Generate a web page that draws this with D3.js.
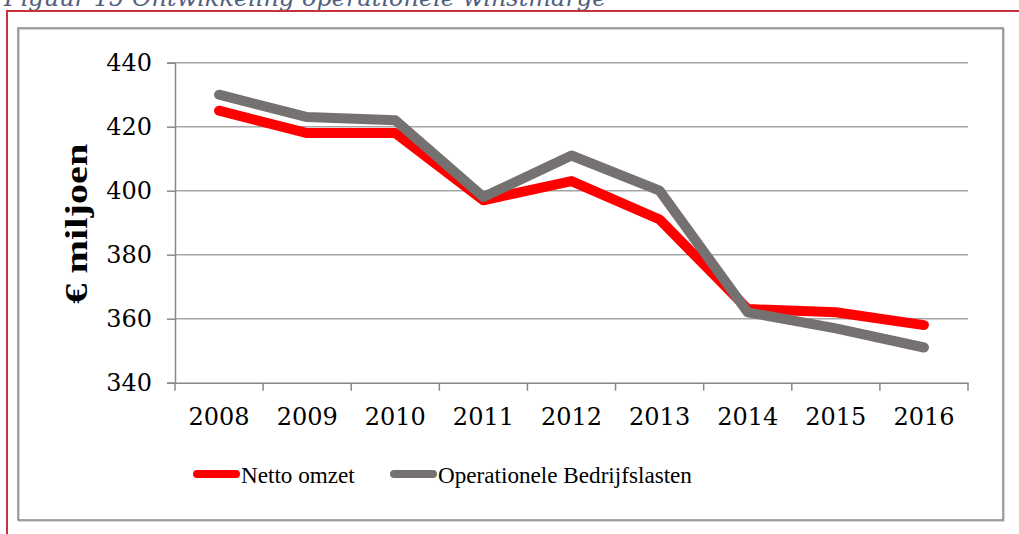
<!DOCTYPE html>
<html>
<head>
<meta charset="UTF-8" />
<script src="https://d3js.org/d3.v7.min.js"></script>
<style>
  body { margin: 0; background: #fff; }
  svg { display: block; }
</style>
</head>
<body>
<div id="chart"></div>
<script>
  // data
  const years = ["2008", "2009", "2010", "2011", "2012", "2013", "2014", "2015", "2016"];
  const nettoOmzet = [425, 418, 418, 397, 403, 391, 363, 362, 358];
  const bedrijfslasten = [430, 423, 422, 398, 411, 400, 362, 357, 351];
  const yTicks = [340, 360, 380, 400, 420, 440];
  const seriesNames = ["Netto omzet", "Operationele Bedrijfslasten"];
  const seriesColors = ["#ff0000", "#767171"];

  const W = 1019, H = 534;
  const svg = d3.select("#chart").append("svg").attr("width", W).attr("height", H);

  // caption (cut off at top)
  svg.append("text")
    .attr("x", 4).attr("y", 6)
    .attr("font-family", "DejaVu Serif")
    .attr("font-style", "italic")
    .attr("font-size", 24)
    .attr("fill", "#4f6080")
    .text("Figuur 15 Ontwikkeling operationele winstmarge");

  // red frame of the page
  svg.append("line").attr("x1", 7).attr("x2", W).attr("y1", 11).attr("y2", 11)
    .attr("stroke", "#c8323c").attr("stroke-width", 2);
  svg.append("line").attr("x1", 7).attr("x2", 7).attr("y1", 10).attr("y2", H)
    .attr("stroke", "#c8323c").attr("stroke-width", 2);

  // chart box
  svg.append("rect").attr("x", 19).attr("y", 29).attr("width", 985).attr("height", 492)
    .attr("fill", "none").attr("stroke", "#b0b0b0").attr("stroke-width", 1);
  svg.append("rect").attr("x", 18).attr("y", 28).attr("width", 985).attr("height", 492)
    .attr("fill", "none").attr("stroke", "#888").attr("stroke-width", 1.5);

  const m = { left: 175, right: 968, top: 62.7, bottom: 382.7 };

  const x = d3.scaleBand().domain(years).range([m.left, m.right]);
  const y = d3.scaleLinear().domain([340, 440]).range([m.bottom, m.top]);

  // gridlines
  svg.append("g").selectAll("line").data(yTicks.filter(d => d > 340)).join("line")
    .attr("x1", m.left).attr("x2", m.right)
    .attr("y1", d => y(d)).attr("y2", d => y(d))
    .attr("stroke", "#a6a6a6").attr("stroke-width", 1.5);

  // y axis
  const yAxis = svg.append("g").attr("transform", `translate(${m.left},0)`)
    .call(d3.axisLeft(y).tickValues(yTicks).tickSize(8).tickPadding(15));
  yAxis.select(".domain").attr("stroke", "#888").attr("stroke-width", 1.5);
  yAxis.selectAll(".tick line").attr("stroke", "#888").attr("stroke-width", 1.5);
  yAxis.selectAll(".tick text")
    .attr("font-family", "DejaVu Serif").attr("font-size", 24).attr("fill", "#000");

  // x axis
  const xAxis = svg.append("g").attr("transform", `translate(0,${m.bottom})`)
    .call(d3.axisBottom(x).tickSize(0).tickPadding(25));
  xAxis.select(".domain").attr("stroke", "#888").attr("stroke-width", 1.5);
  xAxis.selectAll(".tick text")
    .attr("font-family", "DejaVu Serif").attr("font-size", 24).attr("fill", "#000");
  // boundary ticks between categories
  svg.append("g").selectAll("line").data(years.concat([null])).join("line")
    .attr("x1", (d, i) => m.left + i * x.step()).attr("x2", (d, i) => m.left + i * x.step())
    .attr("y1", m.bottom).attr("y2", m.bottom + 8)
    .attr("stroke", "#888").attr("stroke-width", 1.5);

  // y axis title
  svg.append("text")
    .attr("transform", `translate(87,${(m.top + m.bottom) / 2 + 1}) rotate(-90) scale(1.3,1)`)
    .attr("text-anchor", "middle")
    .attr("font-family", "Liberation Serif").attr("font-weight", "bold")
    .attr("font-size", 31).attr("fill", "#000")
    .text("€ miljoen");

  // lines
  const line = d3.line()
    .x((d, i) => x(years[i]) + x.bandwidth() / 2)
    .y(d => y(d));

  [nettoOmzet, bedrijfslasten].forEach((s, k) => {
    svg.append("path").datum(s)
      .attr("d", line)
      .attr("fill", "none")
      .attr("stroke", seriesColors[k])
      .attr("stroke-width", 10)
      .attr("stroke-linejoin", "round")
      .attr("stroke-linecap", "round");
  });

  // legend
  const legendX = [193, 390];
  const lg = svg.append("g");
  seriesNames.forEach((name, k) => {
    lg.append("line")
      .attr("x1", legendX[k] + 4).attr("x2", legendX[k] + 43)
      .attr("y1", 474).attr("y2", 474)
      .attr("stroke", seriesColors[k]).attr("stroke-width", 8)
      .attr("stroke-linecap", "round");
    lg.append("text")
      .attr("x", legendX[k] + 48).attr("y", 483)
      .attr("font-family", "Liberation Serif").attr("font-size", 24)
      .attr("transform", `translate(${legendX[k] + 48},0) scale(0.965,1) translate(${-(legendX[k] + 48)},0)`)
      .attr("fill", "#000")
      .text(name);
  });
</script>
</body>
</html>
